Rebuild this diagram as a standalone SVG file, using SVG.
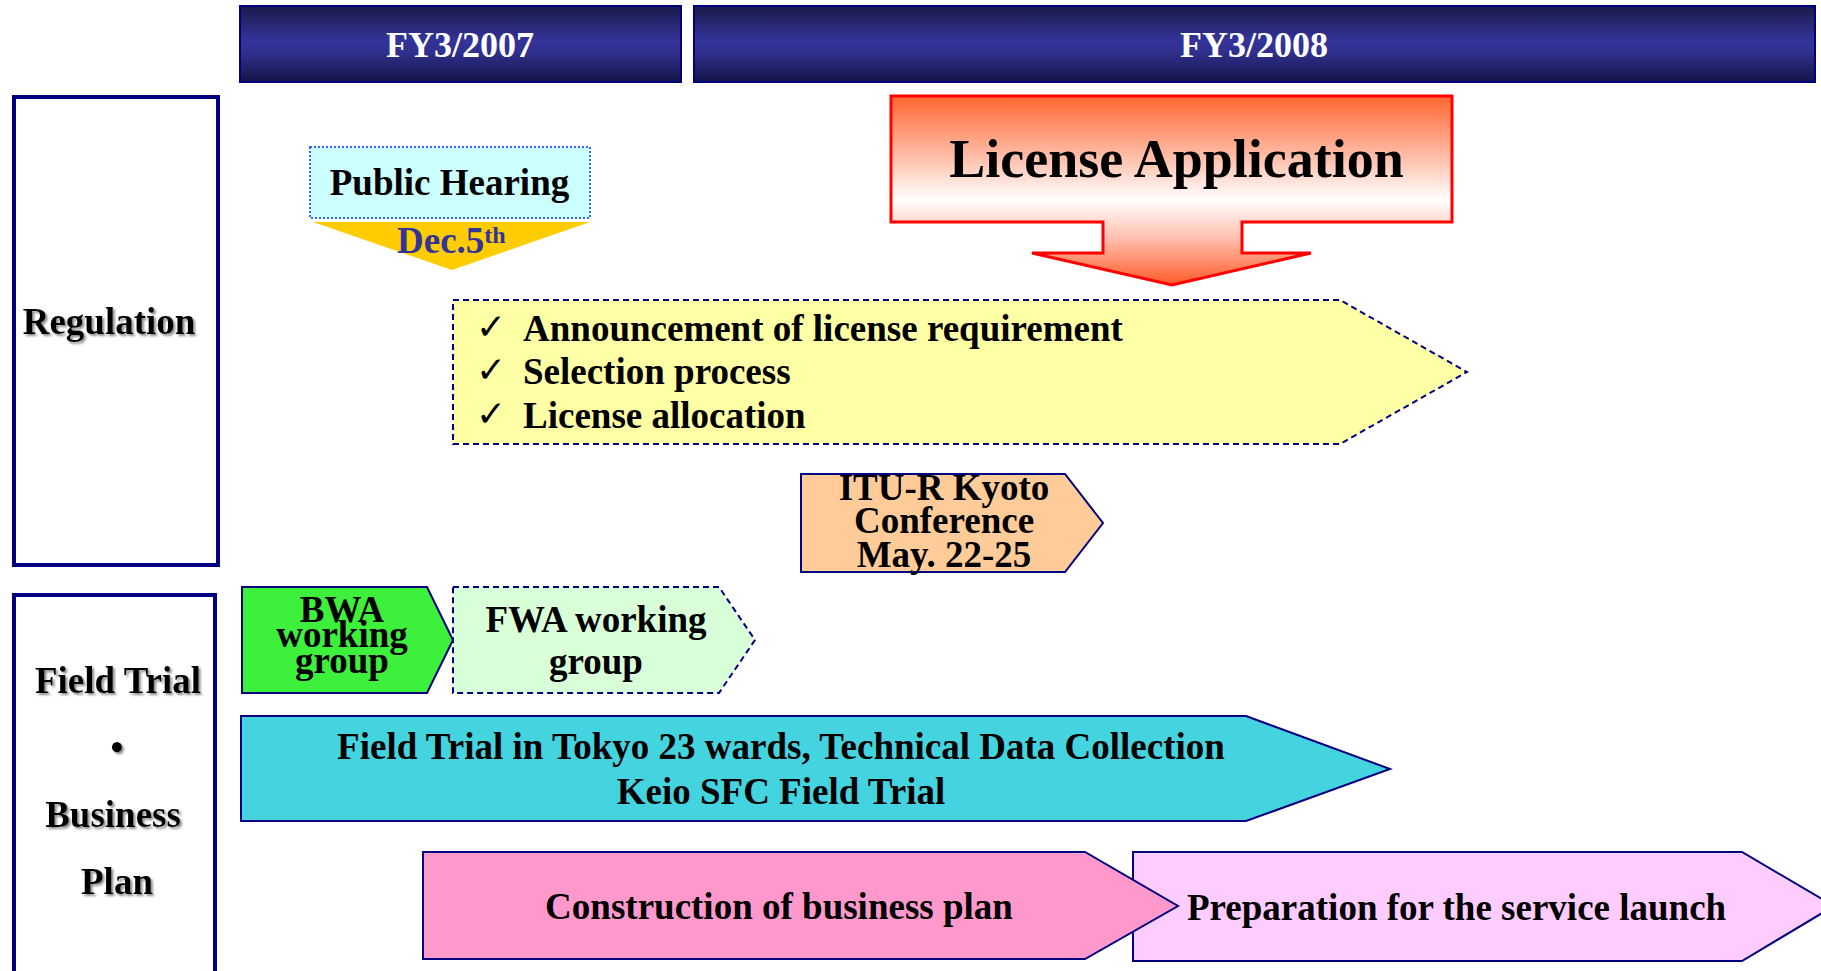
<svg xmlns="http://www.w3.org/2000/svg" width="1821" height="971" viewBox="0 0 1821 971">
  <defs>
    <linearGradient id="hdrGrad" x1="0" y1="0" x2="0" y2="1">
      <stop offset="0" stop-color="#1a1a4a"/>
      <stop offset="0.45" stop-color="#333399"/>
      <stop offset="0.6" stop-color="#30308f"/>
      <stop offset="1" stop-color="#141448"/>
    </linearGradient>
    <linearGradient id="licGrad" x1="0" y1="0" x2="0" y2="1">
      <stop offset="0" stop-color="#ff6630"/>
      <stop offset="0.3" stop-color="#ffb8a0"/>
      <stop offset="0.55" stop-color="#ffffff"/>
      <stop offset="0.75" stop-color="#ffc0b0"/>
      <stop offset="1" stop-color="#ff5a28"/>
    </linearGradient>
    <filter id="shadow" x="-10%" y="-20%" width="130%" height="150%">
      <feDropShadow dx="2" dy="2" stdDeviation="0.8" flood-color="#808080" flood-opacity="0.9"/>
    </filter>
  </defs>
  <style>
    text { font-family: "Liberation Serif", "Times New Roman", serif; font-weight: bold; font-size: 37px; fill: #000; }
    .c { text-anchor: middle; }
    .hdr { fill: url(#hdrGrad); stroke: #000080; stroke-width: 2; }
    .hdrText { fill: #ffffff; font-size: 36px; }
    .big { font-size: 54px; }
    .sup { font-size: 24px; fill: #333399; }
    .side { fill: none; stroke: #000080; stroke-width: 4; }
    .shape { stroke: #000080; stroke-width: 2; stroke-linejoin: miter; }
    .dashed { stroke: #000080; stroke-width: 2; stroke-dasharray: 6 4; }
    .check { font-family: "DejaVu Sans", sans-serif; font-weight: normal; font-size: 36px; }
    .lbl { filter: url(#shadow); }
  </style>

  <rect width="1821" height="971" fill="#ffffff"/>

  <!-- fiscal year header bars -->
  <g id="fy2007">
    <rect class="hdr" x="240" y="6" width="441" height="76"/>
    <text class="hdrText c" x="460" y="57">FY3/2007</text>
  </g>
  <g id="fy2008">
    <rect class="hdr" x="694" y="6" width="1121" height="76"/>
    <text class="hdrText c" x="1254" y="57">FY3/2008</text>
  </g>

  <!-- row labels -->
  <g id="regulation">
    <rect class="side" x="14" y="97" width="204" height="468"/>
    <text class="c lbl" x="109" y="334">Regulation</text>
  </g>
  <g id="fieldTrialBusinessPlan">
    <rect class="side" x="14" y="595" width="201" height="420"/>
    <text class="c lbl" x="118" y="693">Field Trial</text>
    <text class="c lbl" x="117" y="760">•</text>
    <text class="c lbl" x="113" y="827">Business</text>
    <text class="c lbl" x="117" y="894">Plan</text>
  </g>

  <!-- regulation track -->
  <g id="publicHearing">
    <rect x="310" y="147" width="280" height="71" fill="#ccffff" stroke="#3366ff" stroke-width="2" stroke-dasharray="2 2"/>
    <text class="c" x="449.5" y="195">Public Hearing</text>
  </g>
  <g id="dec5">
    <polygon points="313,222 590,222 452,270" fill="#ffcc00"/>
    <text x="397" y="253" style="fill:#333399">Dec.5<tspan class="sup" dy="-10">th</tspan></text>
  </g>

  <g id="licenseApplication">
    <polygon points="891,96 1452,96 1452,222 1242,222 1242,253 1311,253 1172,285 1032,253 1103,253 1103,222 891,222" fill="url(#licGrad)" stroke="#ff0000" stroke-width="3"/>
    <text class="c big" x="1176.5" y="177">License Application</text>
  </g>

  <g id="licenseSteps">
    <polygon class="dashed" points="453,300 1340,300 1467,372 1340,444 453,444" fill="#ffffa6"/>
    <text class="check" x="476" y="339">✓</text>
    <text x="523" y="341">Announcement of license requirement</text>
    <text class="check" x="476" y="382">✓</text>
    <text x="523" y="384">Selection process</text>
    <text class="check" x="476" y="426">✓</text>
    <text x="523" y="428">License allocation</text>
  </g>

  <g id="ituKyoto">
    <polygon class="shape" points="801,474 1065,474 1103,523 1065,572 801,572" fill="#ffcc99"/>
    <text class="c" x="944" y="500">ITU-R Kyoto</text>
    <text class="c" x="944" y="533">Conference</text>
    <text class="c" x="944" y="567">May. 22-25</text>
  </g>

  <!-- field trial / business plan track -->
  <g id="bwaGroup">
    <polygon class="shape" points="242,587 427,587 453,640 427,693 242,693" fill="#3cf03c"/>
    <text class="c" x="342" y="622">BWA</text>
    <text class="c" x="342" y="647">working</text>
    <text class="c" x="342" y="673">group</text>
  </g>
  <g id="fwaGroup">
    <polygon class="dashed" points="453,587 719,587 755,640 719,693 453,693" fill="#d8ffd8"/>
    <text class="c" x="596" y="632">FWA working</text>
    <text class="c" x="596" y="674">group</text>
  </g>

  <g id="fieldTrialTokyo">
    <polygon class="shape" points="241,716 1246,716 1390,769 1246,821 241,821" fill="#44d4e0"/>
    <text class="c" x="781" y="759">Field Trial in Tokyo 23 wards, Technical Data Collection</text>
    <text class="c" x="781" y="804">Keio SFC Field Trial</text>
  </g>

  <g id="serviceLaunch">
    <polygon class="shape" points="1133,852 1742,852 1834,906 1742,961 1133,961" fill="#ffccff"/>
    <text x="1187" y="920">Preparation for the service launch</text>
  </g>
  <g id="businessPlan">
    <polygon class="shape" points="423,852 1085,852 1178,906 1085,959 423,959" fill="#ff99cc"/>
    <text class="c" x="779" y="919">Construction of business plan</text>
  </g>

  <g id="connectors"/>
</svg>
